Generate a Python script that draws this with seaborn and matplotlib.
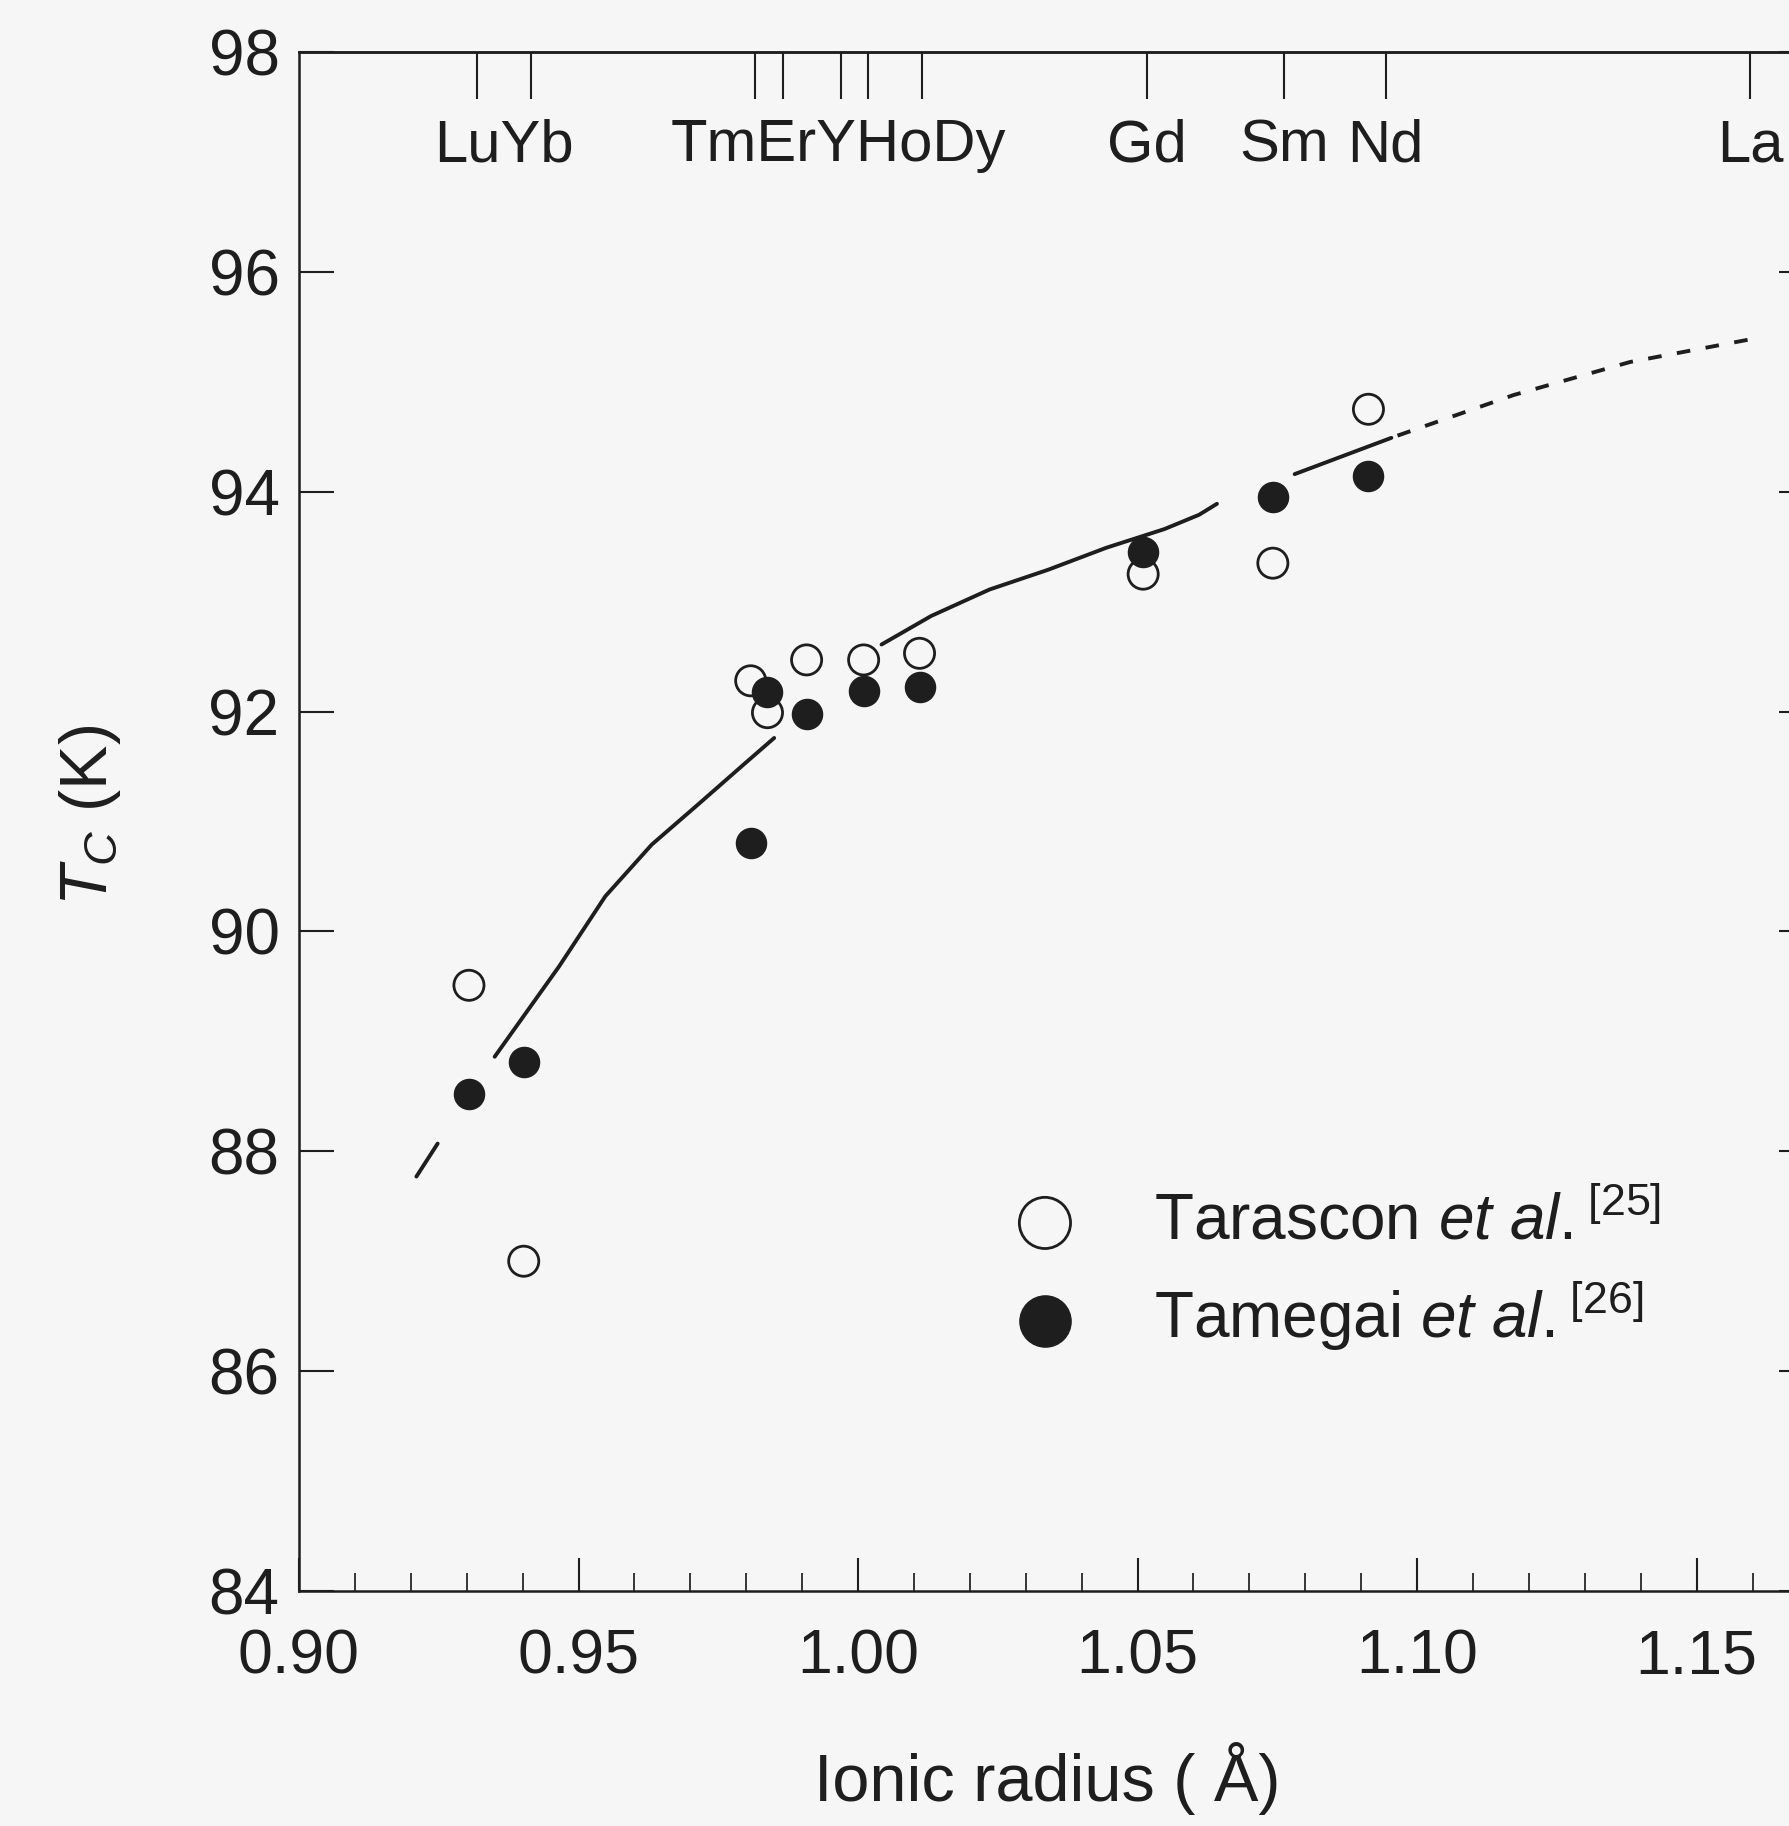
import matplotlib
matplotlib.use('Agg')
import matplotlib.pyplot as plt
import matplotlib.transforms as mtransforms
import numpy as np
import pandas as pd
import seaborn as sns

# measured points (ionic radius in Angstrom, Tc in K)
radius = [0.9304, 0.9402, 0.9808, 0.9838, 0.9908, 1.0010, 1.0110, 1.0510, 1.0742, 1.0913]
tc_tarascon = [89.51, 87.00, 92.28, 91.99, 92.47, 92.47, 92.53, 93.25, 93.35, 94.75]
tc_tamegai = [88.52, 88.81, 90.80, 92.18, 91.98, 92.19, 92.22, 93.45, 93.95, 94.14]

# guide curve, split in solid pieces + dashed extrapolation
curve_r = [0.9210, 0.9248,
           0.9350, 0.9465, 0.9548, 0.9631, 0.9715, 0.9798, 0.9850,
           1.0042, 1.0131, 1.0235, 1.0340, 1.0444, 1.0548, 1.0610, 1.0642,
           1.0781, 1.0954]
curve_tc = [87.77, 88.07,
            88.86, 89.68, 90.32, 90.79, 91.16, 91.53, 91.76,
            92.61, 92.87, 93.11, 93.29, 93.49, 93.66, 93.79, 93.89,
            94.16, 94.49]
curve_seg = [0, 0,
             1, 1, 1, 1, 1, 1, 1,
             2, 2, 2, 2, 2, 2, 2, 2,
             3, 3]
dash_r = [1.0965, 1.1173, 1.1381, 1.1600]
dash_tc = [94.51, 94.88, 95.18, 95.39]

# rare-earth ions on top axis
elements = ['Lu', 'Yb', 'Tm', 'Er', 'Y', 'Ho', 'Dy', 'Gd', 'Sm', 'Nd', 'La']
element_r = [0.9319, 0.9415, 0.9815, 0.9865, 0.9969, 1.0017, 1.0115, 1.0517, 1.0762, 1.0944, 1.1596]
label_groups = [['Lu', 'Yb'], ['Tm', 'Er', 'Y', 'Ho', 'Dy'], ['Gd'], ['Sm'], ['Nd'], ['La']]

sns.set_theme(style='ticks')
plt.rcParams['font.family'] = ['Liberation Sans', 'DejaVu Sans']
plt.rcParams['mathtext.fontset'] = 'custom'
plt.rcParams['mathtext.rm'] = 'Liberation Sans'
plt.rcParams['mathtext.it'] = 'Liberation Sans:italic'

ink = '#1e1e1e'
bg = '#f7f6f7'

fig = plt.figure(figsize=(17.89, 18.26), dpi=100, facecolor=bg)
ax = fig.add_axes([299 / 1789, (1826 - 1591) / 1826, (1814 - 299) / 1789, (1591 - 52) / 1826])
ax.set_facecolor(bg)

curve = pd.DataFrame({'r': curve_r, 'tc': curve_tc, 'seg': curve_seg})
sns.lineplot(data=curve, x='r', y='tc', units='seg', estimator=None, sort=False,
             color=ink, lw=2.8, ax=ax)
sns.lineplot(x=dash_r, y=dash_tc, color=ink, lw=2.8, ls=(0, (3.5, 4)), sort=False, ax=ax)

sns.scatterplot(x=radius, y=tc_tarascon, marker='o', s=470, facecolor='none',
                edgecolor=ink, linewidth=2.0, label=r'Tarascon $\mathit{et\ al.}^{[25]}$', ax=ax, zorder=3)
sns.scatterplot(x=radius, y=tc_tamegai, marker='o', s=470, color=ink,
                edgecolor=ink, linewidth=1.0, label=r'Tamegai $\mathit{et\ al.}^{[26]}$', ax=ax, zorder=4)

ax.set_xlim(0.90, 1.171)
ax.set_ylim(84, 98)
ax.set_xticks(np.arange(0.90, 1.151, 0.05))
ax.set_xticklabels(['%.2f' % v for v in np.arange(0.90, 1.151, 0.05)])
ax.set_xticks(np.arange(0.90, 1.171, 0.01), minor=True)
ax.set_yticks(range(84, 99, 2))

for s in ax.spines.values():
    s.set_color(ink)
    s.set_linewidth(1.8)

ax.tick_params(axis='x', which='major', direction='in', length=24, width=1.5, pad=26,
               labelsize=45, colors=ink, top=False)
ax.tick_params(axis='x', which='minor', direction='in', length=13, width=1.3, top=False)
ax.tick_params(axis='y', which='major', direction='in', length=25, width=1.5, pad=14,
               labelsize=46, colors=ink, left=True, right=True)

top = ax.secondary_xaxis('top')
top.set_xticks(element_r)
top.tick_params(direction='in', length=34, width=1.5, labeltop=False, colors=ink)
top.spines['top'].set_linewidth(1.8)

trans = mtransforms.blended_transform_factory(ax.transData, ax.transAxes)
lookup = dict(zip(elements, element_r))
for grp in label_groups:
    xs = [lookup[e] for e in grp]
    ax.text((min(xs) + max(xs)) / 2, 0.939, ''.join(grp), transform=trans,
            ha='center', va='center', fontsize=43, color=ink)

ax.set_xlabel('Ionic radius ( Å)', fontsize=48, color=ink)
ax.set_ylabel(r'$T_C$ (K)', fontsize=48, color=ink)
ax.xaxis.set_label_coords(0.494, -0.098)
ax.yaxis.set_label_coords(-0.116, 0.504)

ax.legend(loc='upper left', bbox_to_anchor=(1013 / 1789, 1 - 1192 / 1826),
          bbox_transform=fig.transFigure, frameon=False, fontsize=46,
          markerscale=1.7, handlelength=1.0, handletextpad=1.2,
          borderpad=0, borderaxespad=0, labelspacing=0.42, labelcolor=ink)

fig.savefig('out.png', dpi=100, facecolor=bg)
